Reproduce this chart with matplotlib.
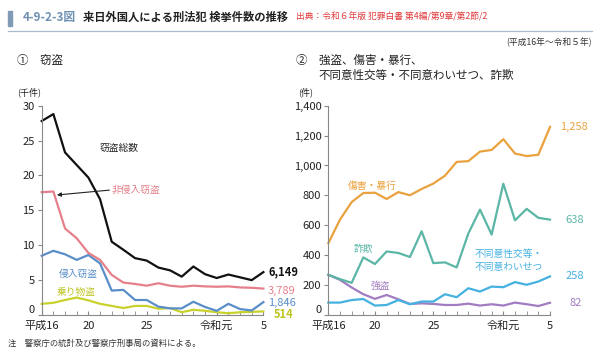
import matplotlib
matplotlib.use("Agg")
import matplotlib.pyplot as plt
from matplotlib.patches import Rectangle
from matplotlib.lines import Line2D
import numpy as np

plt.rcParams['font.family'] = ['Noto Sans CJK JP', 'DejaVu Sans']

# 平成16年 ~ 令和5年 (20 years)
years = list(range(20))
xtick_pos = [0, 4, 9, 15, 19]
xtick_labels = ['平成16', '20', '25', '令和元', '5']

# ① 窃盗 (千件)
theft_total = [27.8, 28.8, 23.3, 21.5, 19.7, 16.6, 10.5, 9.35, 8.15, 7.8,
               6.8, 6.4, 5.5, 6.95, 5.85, 5.3, 5.8, 5.4, 5.0, 6.149]
theft_non_intrusion = [17.6, 17.7, 12.4, 11.0, 8.9, 7.9, 5.75, 4.65, 4.45, 4.2,
                       4.55, 4.2, 4.05, 4.2, 4.1, 4.05, 4.1, 3.95, 3.9, 3.789]
theft_intrusion = [8.5, 9.2, 8.7, 7.9, 8.6, 7.4, 3.5, 3.6, 2.15, 2.15,
                   1.2, 0.95, 0.95, 1.9, 1.15, 0.6, 1.6, 0.85, 0.65, 1.846]
theft_vehicle = [1.6, 1.75, 2.15, 2.5, 2.1, 1.6, 1.3, 1.0, 1.3, 1.3,
                 0.9, 1.0, 0.4, 0.75, 0.6, 0.4, 0.25, 0.4, 0.45, 0.514]

# ② 件
assault = [480, 638, 755, 816, 818, 776, 822, 801, 843, 879,
           932, 1024, 1029, 1093, 1104, 1176, 1080, 1063, 1072, 1258]
fraud = [269, 240, 215, 385, 341, 425, 415, 388, 560, 347,
         352, 318, 545, 705, 538, 878, 633, 710, 650, 638]
sexual = [83, 83, 100, 107, 63, 67, 100, 72, 90, 90,
          139, 119, 179, 157, 190, 186, 220, 202, 224, 258]
robbery = [269, 235, 184, 139, 108, 134, 105, 74, 78, 74,
           67, 67, 76, 63, 72, 63, 83, 72, 60, 82]

W, H = 600, 353
fig = plt.figure(figsize=(6.0, 3.53), dpi=100)

def fx(px):
    return px / W

def fy(py):
    return 1 - py / H

# header
fig.patches.append(Rectangle((fx(8), fy(26)), fx(4), 15 / H, transform=fig.transFigure,
                             color='#7f9bb5', zorder=5))
fig.text(fx(23), fy(17), '4-9-2-3図', fontsize=8.5, fontweight='bold', color='#6f91b3', va='center')
fig.text(fx(83), fy(17), '来日外国人による刑法犯 検挙件数の推移', fontsize=8.1, fontweight='bold',
         color='#222222', va='center')
fig.text(fx(296), fy(17), '出典：令和６年版 犯罪白書 第4編/第9章/第2節/2', fontsize=6.3,
         color='#e0383a', va='center')
fig.lines.append(Line2D([fx(8), fx(592)], [fy(31), fy(31)], transform=fig.transFigure,
                        color='#a9bccd', lw=0.9))
fig.text(fx(592), fy(42), '(平成16年～令和５年)', fontsize=6.3, color='#333333', ha='right', va='center')

# subtitles
fig.text(fx(17), fy(60), '①　窃盗', fontsize=8.3, color='#222222', va='center')
fig.text(fx(296), fy(60), '②　強盗、傷害・暴行、', fontsize=8.3, color='#222222', va='center')
fig.text(fx(318), fy(75), '不同意性交等・不同意わいせつ、詐欺', fontsize=8.3, color='#222222', va='center')
fig.text(fx(17), fy(92), '(千件)', fontsize=6.5, color='#222222', va='center')
fig.text(fx(298), fy(92), '(件)', fontsize=6.5, color='#222222', va='center')
fig.text(fx(8), fy(343), '注　警察庁の統計及び警察庁刑事局の資料による。', fontsize=6, color='#333333',
         va='center')

ax_top, ax_bot = 105.7, 315

def make_axes(x0, x1, ymax, step):
    ax = fig.add_axes([fx(x0), fy(ax_bot), (x1 - x0) / W, (ax_bot - ax_top) / H])
    ax.set_xlim(0, 19)
    ax.set_ylim(0, ymax)
    for s in ['top', 'right']:
        ax.spines[s].set_visible(False)
    for s in ['left', 'bottom']:
        ax.spines[s].set_color('#888888')
        ax.spines[s].set_linewidth(0.8)
    ax.set_xticks(years, minor=True)
    ax.set_xticks(xtick_pos)
    ax.set_xticklabels(xtick_labels)
    ax.tick_params(axis='x', which='both', direction='in', length=3, color='#888888',
                   labelsize=8, pad=4)
    ax.set_yticks(np.arange(0, ymax + 1, step))
    ax.tick_params(axis='y', direction='out', length=3, color='#888888', labelsize=8, pad=2)
    ax.patch.set_alpha(0)
    for lab in ax.get_xticklabels() + ax.get_yticklabels():
        lab.set_color('#222222')
    # lift the "0" label slightly so it clears the first x label
    ax.get_yticklabels()[0].set_va('bottom')
    return ax

# ① left panel
ax1 = make_axes(41.7, 263.4, 30, 5)
ax1.plot(years, theft_vehicle, color='#c9d22c', lw=1.6, clip_on=False)
ax1.plot(years, theft_intrusion, color='#5a8ec8', lw=1.6, clip_on=False)
ax1.plot(years, theft_non_intrusion, color='#e5808b', lw=1.6, clip_on=False)
ax1.plot(years, theft_total, color='#111111', lw=1.6, clip_on=False)

ax1.text(5.0, 24.0, '窃盗総数', fontsize=7, color='#222222', va='center')
ax1.text(6.0, 17.9, '非侵入窃盗', fontsize=7, color='#e5808b', va='center')
ax1.annotate('', xy=(1.3, 17.2), xytext=(5.8, 17.9),
             arrowprops=dict(arrowstyle='-|>', color='#222222', lw=0.8,
                             shrinkA=0, shrinkB=0, mutation_scale=6))
ax1.text(1.5, 5.9, '侵入窃盗', fontsize=7, color='#5a8ec8', va='center')
ax1.text(1.3, 3.3, '乗り物盗', fontsize=7, color='#bcc520', va='center')

ax1.text(19.4, 6.149, '6,149', fontsize=8, color='#111111', va='center', fontweight='bold')
ax1.text(19.4, 3.5, '3,789', fontsize=8, color='#e5808b', va='center')
ax1.text(19.4, 1.75, '1,846', fontsize=8, color='#5a8ec8', va='center')
ax1.text(19.9, 0.0, '514', fontsize=8, color='#bcc520', va='center', fontweight='bold')

# ② right panel
ax2 = make_axes(328.3, 550.0, 1400, 200)
ax2.set_yticklabels(['{:,}'.format(v) for v in range(0, 1401, 200)])
for lab in ax2.get_yticklabels():
    lab.set_color('#222222')
ax2.get_yticklabels()[0].set_va('bottom')
ax2.plot(years, robbery, color='#a27cc2', lw=1.6, clip_on=False)
ax2.plot(years, sexual, color='#45b1e0', lw=1.6, clip_on=False)
ax2.plot(years, fraud, color='#5bb6a6', lw=1.6, clip_on=False)
ax2.plot(years, assault, color='#e9a23e', lw=1.6, clip_on=False)

ax2.text(1.7, 865, '傷害・暴行', fontsize=7, color='#e9a23e', va='center')
ax2.text(2.2, 445, '詐欺', fontsize=7, color='#5bb6a6', va='center')
ax2.text(3.6, 195, '強盗', fontsize=7, color='#a27cc2', va='center')
ax2.text(15.5, 365, '不同意性交等・\n不同意わいせつ', fontsize=7, color='#45b1e0', va='center',
         ha='center', linespacing=1.3)

ax2.text(19.9, 1258, '1,258', fontsize=8, color='#e9a23e', va='center')
ax2.text(20.3, 638, '638', fontsize=8, color='#5bb6a6', va='center')
ax2.text(20.3, 258, '258', fontsize=8, color='#45b1e0', va='center')
ax2.text(20.7, 82, '82', fontsize=8, color='#a27cc2', va='center')

fig.savefig('out.png', dpi=100)
